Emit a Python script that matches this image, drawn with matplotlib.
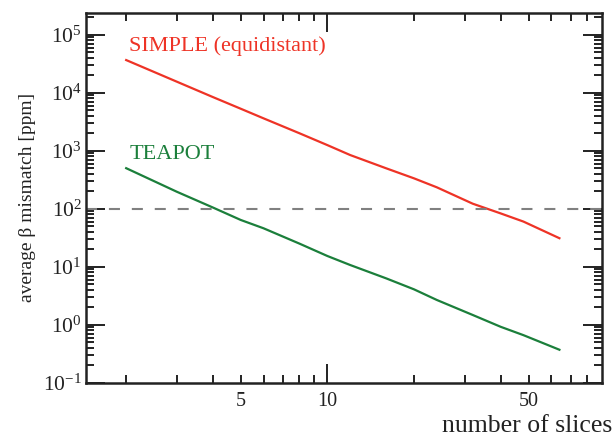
import math
import matplotlib
matplotlib.use("Agg")
import matplotlib.pyplot as plt
from matplotlib.ticker import FixedLocator, FuncFormatter, LogLocator, NullFormatter

# data (number of slices vs average beta mismatch, ppm)
slices = [2, 3, 4, 5, 6, 8, 10, 12, 16, 20, 24, 32, 40, 48, 64]
simple_ppm = [36600, 15500, 8430, 5300, 3620, 2000, 1250, 843, 498, 334, 234, 122, 83, 60, 31]
teapot_ppm = [500, 196, 105, 64, 46, 25, 15.3, 10.7, 6.3, 4.07, 2.67, 1.47, 0.92, 0.66, 0.37]
limit_ppm = 100

plt.rcParams['font.family'] = ['Liberation Serif', 'DejaVu Serif']
plt.rcParams['mathtext.fontset'] = 'custom'
plt.rcParams['mathtext.rm'] = 'Liberation Serif'
plt.rcParams['mathtext.it'] = 'Liberation Serif:italic'

red = '#ee3326'
green = '#1b7f3b'
dark = '#222222'

fig = plt.figure(figsize=(6.15, 4.38), dpi=100)
ax = fig.add_axes([0.1398, 0.1263, 0.8391, 0.8447])

ax.plot(slices, simple_ppm, color=red, lw=1.6)
ax.plot(slices, teapot_ppm, color=green, lw=1.6)
ax.axhline(limit_ppm, color='#808080', lw=1.5, linestyle=(0, (5.3, 5.7)))

ax.set_xscale('log')
ax.set_yscale('log')
ax.set_xlim(1.45, 90)
ax.set_ylim(0.1, 2.4e5)

# x ticks: only 10 is a major tick, 5 and 50 get labels on minor ticks
ax.xaxis.set_major_locator(FixedLocator([10]))
ax.xaxis.set_major_formatter(FuncFormatter(lambda v, p: '%d' % v))
ax.xaxis.set_minor_locator(FixedLocator([2, 3, 4, 5, 6, 7, 8, 9, 20, 30, 40, 50, 60, 70, 80]))
ax.xaxis.set_minor_formatter(FuncFormatter(lambda v, p: '%d' % round(v) if round(v) in (5, 50) else ''))

ax.yaxis.set_major_locator(FixedLocator([1e-1, 1, 10, 100, 1e3, 1e4, 1e5]))
ax.yaxis.set_major_formatter(FuncFormatter(lambda v, p: r'$10^{%d}$' % round(math.log10(v))))
ax.yaxis.set_minor_locator(LogLocator(base=10, subs=range(2, 10), numticks=20))
ax.yaxis.set_minor_formatter(NullFormatter())

ax.tick_params(which='both', direction='in', top=True, right=True, colors=dark, width=1.4)
ax.tick_params(which='major', length=14)
ax.tick_params(which='minor', length=5.5)
ax.tick_params(axis='x', which='both', pad=7, labelsize=14.5)
ax.tick_params(axis='y', which='both', pad=3, labelsize=15.5)

for s in ax.spines.values():
    s.set_linewidth(1.8)
    s.set_color(dark)

ax.set_ylabel(r'average β mismatch [ppm]', fontsize=14, color=dark, labelpad=5)
fig.text(0.995, 1 - 432 / 438, 'number of slices', fontsize=18.5, color=dark,
         ha='right', va='baseline')

ax.text(2.05, 4.3e4, 'SIMPLE (equidistant)', color=red, fontsize=16, va='bottom')
ax.text(2.05, 590, 'TEAPOT', color=green, fontsize=16, va='bottom')

fig.savefig('out.png', dpi=100)
